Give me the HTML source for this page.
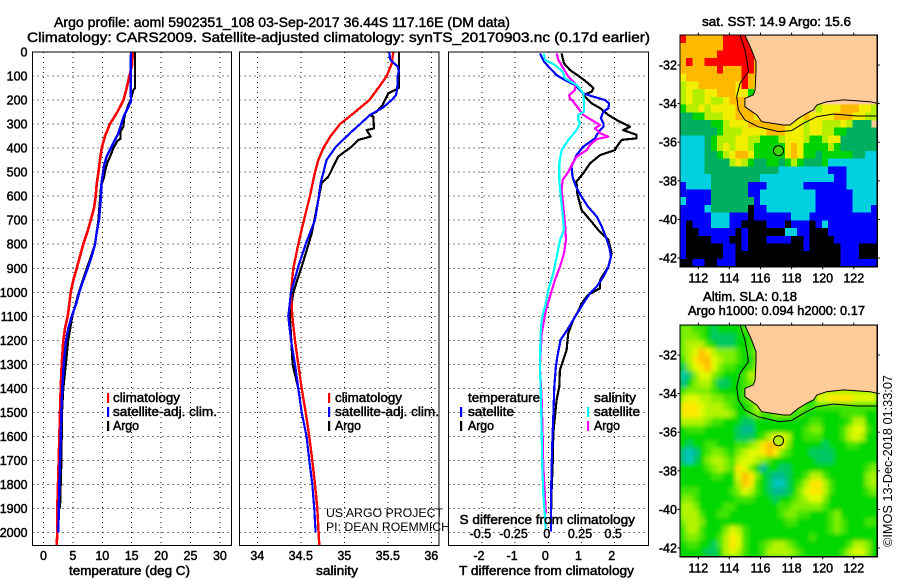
<!DOCTYPE html>
<html><head><meta charset="utf-8"><title>Argo profile</title>
<style>
html,body{margin:0;padding:0;background:#fff;width:900px;height:580px;overflow:hidden}
svg{display:block}
text{font-family:"Liberation Sans",sans-serif;fill:#000}
.b{stroke:#000;stroke-width:.5px;font-size:13px}
.t{stroke:#000;stroke-width:.45px;font-size:14px}
.n{font-size:12px;stroke:none}
</style></head><body>
<svg id="chart" width="900" height="580" viewBox="0 0 900 580" xmlns="http://www.w3.org/2000/svg">
<defs><filter id="soften" x="-5%" y="-5%" width="110%" height="110%"><feGaussianBlur stdDeviation="2"/></filter></defs>
<rect width="900" height="580" fill="#fff"/>
<g id="plots"></g>
<text class="t" x="54" y="27" textLength="456" lengthAdjust="spacingAndGlyphs">Argo profile: aoml 5902351_108 03-Sep-2017 36.44S 117.16E (DM data)</text>
<text class="t" x="27" y="42" textLength="623" lengthAdjust="spacingAndGlyphs">Climatology: CARS2009. Satellite-adjusted climatology: synTS_20170903.nc (0.17d earlier)</text>
<text class="b" x="69" y="575" textLength="121" lengthAdjust="spacingAndGlyphs">temperature (deg C)</text>
<text class="b" x="316" y="575" textLength="42" lengthAdjust="spacingAndGlyphs">salinity</text>
<text class="b" x="459" y="575" textLength="175" lengthAdjust="spacingAndGlyphs">T difference from climatology</text>
<text class="b" x="113" y="402" textLength="67" lengthAdjust="spacingAndGlyphs">climatology</text>
<text class="b" x="113" y="416" textLength="104" lengthAdjust="spacingAndGlyphs">satellite-adj. clim.</text>
<text class="b" x="113" y="430" textLength="26" lengthAdjust="spacingAndGlyphs">Argo</text>
<text class="b" x="335" y="402" textLength="67" lengthAdjust="spacingAndGlyphs">climatology</text>
<text class="b" x="335" y="416" textLength="104" lengthAdjust="spacingAndGlyphs">satellite-adj. clim.</text>
<text class="b" x="335" y="430" textLength="26" lengthAdjust="spacingAndGlyphs">Argo</text>
<text class="n" x="326" y="517" textLength="117" lengthAdjust="spacingAndGlyphs">US ARGO PROJECT</text>
<text class="n" x="326" y="531" textLength="124" lengthAdjust="spacingAndGlyphs">PI: DEAN ROEMMICH</text>
<text class="b" x="468" y="402" textLength="72" lengthAdjust="spacingAndGlyphs">temperature</text>
<text class="b" x="468" y="416" textLength="46" lengthAdjust="spacingAndGlyphs">satellite</text>
<text class="b" x="468" y="430" textLength="26" lengthAdjust="spacingAndGlyphs">Argo</text>
<text class="b" x="594" y="402" textLength="42" lengthAdjust="spacingAndGlyphs">salinity</text>
<text class="b" x="594" y="416" textLength="46" lengthAdjust="spacingAndGlyphs">satellite</text>
<text class="b" x="594" y="430" textLength="26" lengthAdjust="spacingAndGlyphs">Argo</text>
<text class="b" x="459.5" y="524" textLength="175.5" lengthAdjust="spacingAndGlyphs">S difference from climatology</text>
<text class="b" x="702" y="26" textLength="149" lengthAdjust="spacingAndGlyphs">sat. SST: 14.9 Argo: 15.6</text>
<text class="b" x="703" y="301" textLength="94" lengthAdjust="spacingAndGlyphs">Altim. SLA: 0.18</text>
<text class="b" x="688" y="315" textLength="177" lengthAdjust="spacingAndGlyphs">Argo h1000: 0.094 h2000: 0.17</text>
<text x="892" y="547" transform="rotate(-90 892 547)" font-size="13" textLength="172" lengthAdjust="spacingAndGlyphs">©IMOS 13-Dec-2018 01:33:07</text>
</svg>
<script>
const depthTicks=[0,100,200,300,400,500,600,700,800,900,1000,1100,1200,1300,1400,1500,1600,1700,1800,1900,2000];
const tempTicks=[0,5,10,15,20,25,30];
const salTicks=[34,34.5,35,35.5,36];
const salTickLabels=['34','34.5','35','35.5','36'];
const dTTicks=[-2,-1,0,1,2];
const dSTicks=[-0.5,-0.25,0,0.25,0.5];
const dSTickLabels=['-0.5','-0.25','0','0.25','0.5'];
const lonTicks=[112,114,116,118,120,122];
const latTicks=[-32,-34,-36,-38,-40,-42];

const tempClimDepth=[0,50,100,150,200,250,300,350,400,450,500,550,600,650,700,750,800,850,900,950,1000,1050,1100,1150,1200,1300,1400,1500,1700,1800,1900,2000,2055];
const tempClim=[15.16,15.1,14.6,14.15,13.6,12.55,11.3,10.46,9.89,9.6,9.33,9.04,8.87,8.59,8.02,7.45,6.77,6.2,5.64,5.07,4.62,4.39,4.11,3.66,3.37,3.09,2.92,2.8,2.58,2.47,2.35,2.35,2.24];
const tempSatDepth=[0,100,150,200,210,270,340,380,435,470,550,600,700,750,800,850,900,950,1000,1050,1100,1150,1200,1300,1400,1500,1600,1800,2000];
const tempSat=[14.88,14.82,14.85,14.88,14.8,13.6,12.7,11.85,10.75,10.3,9.84,9.78,9.44,9.04,8.76,8.19,7.51,6.77,6.09,5.53,4.79,4.22,3.83,3.43,3.2,3.03,2.92,2.69,2.52];
const tempArgoDepth=[0,150,160,200,220,260,280,310,330,360,370,400,430,460,490,520,560,700,800,1000,1100,1200,1300,1400,1500,1700,1900];
const tempArgo=[15.56,15.56,15.28,14.82,14.43,13.86,13.69,13.58,13.12,13.12,12.56,11.88,11.42,10.86,10.52,10.29,9.78,9.33,8.76,6.0,4.9,4.2,3.8,3.37,3.15,3.04,2.8];

const salClimDepth=[0,50,100,150,200,250,300,350,400,450,500,600,700,800,900,1000,1100,1200,1300,1400,1500,1600,1700,1800,1900,2000,2055];
const salClim=[35.563,35.544,35.487,35.391,35.287,35.123,34.95,34.843,34.759,34.701,34.663,34.605,34.536,34.471,34.414,34.387,34.402,34.433,34.471,34.51,34.556,34.598,34.632,34.663,34.69,34.705,34.713];
const salSatDepth=[0,30,50,60,80,100,150,180,200,230,262,338,394,449,546,616,699,796,893,1000,1100,1200,1300,1400,1500,1600,1700,1800,1900,2000];
const salSat=[35.517,35.525,35.582,35.613,35.628,35.613,35.609,35.594,35.544,35.448,35.295,35.065,34.904,34.797,34.728,34.701,34.663,34.559,34.471,34.387,34.356,34.387,34.433,34.471,34.51,34.567,34.598,34.632,34.655,34.67];
const salArgoDepth=[0,150,158,172,200,220,248,262,269,318,325,352,366,394,435,477,519,546,616,755,893,1000,1100,1300,1400,1500];
const salArgo=[35.628,35.628,35.582,35.506,35.467,35.441,35.372,35.295,35.333,35.341,35.257,35.303,35.161,35.084,34.931,34.874,34.816,34.739,34.701,34.625,34.51,34.414,34.375,34.406,34.471,34.51];

const dTArgoDepth=[6,47,75,103,130,151,165,179,214,234,262,283,311,325,345,359,366,394,408,429,463,505,539,588,657,699,741,782,838,893,949,983,1011,1046,1074,1115,1171,1240,1282,1323,1393,1448,1518,1587,1726,1823,1934];
const dTArgo=[.40,.47,.65,.95,1.2,1.36,1.31,1.05,1.31,1.56,1.81,2.06,2.46,2.26,2.66,2.66,2.21,2.06,2.01,1.56,1.26,1.05,.85,.87,1.0,1.26,1.51,1.81,1.91,1.81,1.56,1.56,1.2,1.0,.92,.75,.6,.55,.45,.35,.33,.25,.2,.15,.13,.1,.08];
const dTSatDepth=[6,40,68,96,117,137,172,186,200,214,234,248,276,297,311,325,345,359,394,429,477,519,560,602,644,685,727,768,810,852,893,935,976,1004,1046,1074,1115,1157,1198,1268,1309,1393,1518,1587,1726,1865,1996];
const dTSat=[-.25,-.13,.05,.25,.5,.8,1.05,1.36,1.71,1.83,1.81,1.66,1.58,1.66,1.66,1.56,1.46,1.41,1.05,.85,.7,.73,.83,1.0,1.2,1.46,1.61,1.73,1.83,1.89,1.81,1.66,1.46,1.26,1.05,.93,.75,.57,.37,.27,.23,.18,.15,.13,.1,.08,.08];
const dSSatDepth=[6,33,54,82,110,137,172,214,248,262,283,297,325,366,408,463,533,602,671,741,782,852,921,990,1060,1074,1115,1171,1309,1448,1587,1726,1837,1934,1989];
const dSSat=[-.033,-.025,.05,.108,.126,.213,.264,.269,.269,.226,.226,.238,.213,.151,.1,.083,.083,.093,.108,.118,.088,.063,.038,0,-.025,-.033,-.05,-.058,-.063,-.055,-.05,-.045,-.038,-.025,-.02];
const dSArgoDepth=[6,33,68,103,130,158,179,193,207,234,262,283,304,318,338,352,363,387,408,436,470,498,533,574,644,713,782,838,893,949,1018,1074,1171,1309,1448,1587,1726,1920];
const dSArgo=[.063,.075,.113,.151,.201,.201,.158,.163,.188,.226,.264,.326,.389,.351,.389,.452,.364,.314,.289,.213,.176,.151,.108,.1,.113,.126,.133,.118,.088,.05,.013,-.018,-.05,-.063,-.05,-.043,-.038,-.018];

const sstRows=[
"roooooorrrrr",
"ooooooorrrrr",
"oooooorrrrrr",
"oroorrrrrrrro",
"oooooorooorro",
"yoooooooooroo",
"lyyooooooyroy",
"lyllyyoooyygy",
"lyllyllyoooo",
"gllylyyyyooo          lyyyoooyyl",
"ttgglllyyoooy      yoyyyyoooyyll",
"tttttgglyyyooooooyyylyylllylttt",
"ttttttglllyyyyoooyyylyyllggttttt",
"cccctglllyyllggglyyylgglyytttttt",
"cccctglylyylgggggyoyggggl"+"gtttttt",
"ccccttglyooygggggyoyggtgggggttcc",
"cccctttt"+"lylgttggtglgtttg"+"cccccccc",
"cccc"+"tttttttttttt"+"cccccccc"+"bbb"+"ccccc",
"ccccc"+"tttttttt"+"cccccccccccc"+"bb"+"ccccc",
"b"+"cccc"+"tttttt"+"bbb"+"cccccc"+"bbbbbbb"+"ccccc",
"bbbbb"+"tttttt"+"bb"+"ccccccccc"+"bbbbbb"+"cccc",
"c"+"bbbb"+"ttttttt"+"b"+"ccccccccc"+"bbbbbb"+"cccc",
"bbbb"+"c"+"tttttt"+"k"+"bb"+"cccccccc"+"bbbbbb"+"ccc"+"b",
"bbbbb"+"ccc"+"bbb"+"k"+"bbbbbb"+"ccc"+"bbbbbbbbbbb",
"b"+"k"+"bbb"+"ccc"+"bb"+"kkkk"+"bbb"+"k"+"bbb"+"k"+"b"+"c"+"bbbbbbbb",
"b"+"kk"+"bbbbbb"+"k"+"b"+"kkkkkk"+"cc"+"bb"+"kkk"+"bbbbbbbb",
"b"+"kkkk"+"bbb"+"kk"+"b"+"kkk"+"bbbb"+"kk"+"b"+"kkkk"+"bbbbbbb",
"b"+"kkkkkk"+"bb"+"k"+"b"+"kkkkkkkkk"+"b"+"kkkkk"+"bbb"+"kkk",
"b"+"kkkkkk"+"bb"+"kk"+"kkkkkkkkkkkkkkk"+"bbb"+"kkk",
"kk"+"bb"+"kk"+"bbb"+"kkkkkkkkkkkkkkkkk"+"bbbbbb"
];
const slaRows=[
"554432333344",
"5554322223344",
"56664322233445",
"56798655543455",
"46899765543354",
"25789754433454",
"02577543334664",
"1356642233456",
"45555433334           6666666666",
"677665544345          7788887777",
"88876665433467     5444444444444",
"88876666533454455544333333444433",
"66665443332233333333344333346633",
"34443333321133333333455333467743",
"33333333322234677633444333467633",
"32334433344568998533333233344333",
"10134554356778985433322223333333",
"10235665467765433333332223333333",
"33334565487531332233333333333345",
"33333443379853211233466433333356",
"33333333369843200234688643333356",
"44433333457643211235788643333345",
"55433333344433323345677533333333",
"66533334433333334455555433333333",
"66643344333333334554433345333333",
"56653333333333333443333345433344",
"46643335764333333333333345433333",
"45543346874333333333343333333333",
"34433246874334566543333333346653",
"33332236764334666654333333467753"
];
const sstColors={r:'#ff0000',o:'#ffb900',y:'#f2ee00',l:'#b4ee00',g:'#00d400',t:'#00b060',c:'#00d0e0',b:'#0000ff',k:'#000000'};
const slaColors=['#00c8c0','#00b890','#00c860','#00d800','#40e400','#80ee00','#b4f400','#e0fa00','#ffe800','#ffc000'];

const coastLon=[115,115.43,115.71,115.71,115.65,115.54,115,115,115.76,116.08,117.47,117.9,118.44,118.97,119.4,119.62,120.26,121.33,123.05,123.51,123.51];
const coastLat=[-30.45,-31.22,-31.83,-32.35,-33.3,-33.55,-33.73,-34.16,-34.59,-34.94,-35.11,-35.11,-34.76,-34.5,-34.33,-34.07,-33.9,-33.81,-33.9,-33.99,-30.45];
const shelfLon=[114.68,115,115.15,115.22,114.68,114.47,114.58,115,115.86,117.15,118,118.76,119.62,120.69,122.19,123.51];
const shelfLat=[-30.45,-31.22,-31.91,-32.35,-32.95,-33.64,-34.33,-34.85,-35.2,-35.45,-35.4,-35.02,-34.68,-34.54,-34.64,-34.64];
const argoLon=117.16;
const argoLat=-36.44;

const NS='http://www.w3.org/2000/svg';
const root=document.getElementById('plots');
const depthY=d=>52+0.2403*d;
const tempX=t=>43.5+5.88*t;
const salX=s=>257.3+87*(s-34);
const dTX=v=>548.3+33.2*v;
const dSX=v=>548.3+132.8*v;
const lonX=l=>698.3+15.55*(l-112);
const latY=(l,o)=>65+o-19.3*(l+32);
const PT=52,PB=545.5;
const panels=[{name:'temperature',l:32.5,r:231.5},{name:'salinity',l:239.5,r:439},{name:'difference',l:448.5,r:648.5}];

function mk(tag,attrs,parent){
  const el=document.createElementNS(NS,tag);
  for(const k in attrs)el.setAttribute(k,attrs[k]);
  (parent||root).appendChild(el);
  return el;
}
function lineMark(xs,depths,fx,color,width,name,parent){
  const pts=xs.map((v,i)=>fx(v).toFixed(1)+','+depthY(depths[i]).toFixed(1)).join(' ');
  const el=mk('polyline',{points:pts,fill:'none',stroke:color,'stroke-width':width,'stroke-linejoin':'round','shape-rendering':'crispEdges'},parent);
  
  
}
function label(x,y,str,anchor,name){
  const el=mk('text',{x:x,y:y,'text-anchor':anchor,'font-size':12.5,stroke:'#000','stroke-width':.45});
  el.textContent=str;
  
  
}
function legendTick(x,y,color,name){
  const el=mk('rect',{x:x-1,y:y,width:2.2,height:10,fill:color});
  
  
}
function grid(p,ticks,fx){
  depthTicks.forEach(d=>{
    const el=mk('line',{x1:p.l,x2:p.r,y1:depthY(d),y2:depthY(d),stroke:'#000','stroke-width':1,'stroke-dasharray':'1 4','shape-rendering':'crispEdges'});
    
    
  });
  ticks.forEach(t=>{
    const el=mk('line',{x1:fx(t),x2:fx(t),y1:PT,y2:PB,stroke:'#000','stroke-width':1,'stroke-dasharray':'1 4','shape-rendering':'crispEdges'});
    
    
  });
}
function frame(l,t,r,b,name){
  const el=mk('rect',{x:l,y:t,width:r-l,height:b-t,fill:'none',stroke:'#000','stroke-width':1.2,'shape-rendering':'crispEdges'});
  
  
}
function clip(id,l,t,r,b){
  const c=mk('clipPath',{id:id});
  mk('rect',{x:l,y:t,width:r-l,height:b-t},c);
}

panels.forEach((p,i)=>{
  clip('clip-p'+i,p.l,PT,p.r,PB);
});
grid(panels[0],tempTicks,tempX);
grid(panels[1],salTicks,salX);
grid(panels[2],dTTicks,dTX);

const g0=mk('g',{'clip-path':'url(#clip-p0)'});


lineMark(tempArgo,tempArgoDepth,tempX,'#000',2.2,'temperature-argo-line',g0);
lineMark(tempClim,tempClimDepth,tempX,'#ff0000',2.6,'temperature-climatology-line',g0);
lineMark(tempSat,tempSatDepth,tempX,'#0000ff',2.4,'temperature-satellite-line',g0);

const g1=mk('g',{'clip-path':'url(#clip-p1)'});


lineMark(salArgo,salArgoDepth,salX,'#000',2.2,'salinity-argo-line',g1);
lineMark(salClim,salClimDepth,salX,'#ff0000',2.4,'salinity-climatology-line',g1);
lineMark(salSat,salSatDepth,salX,'#0000ff',2.2,'salinity-satellite-line',g1);

const g2=mk('g',{'clip-path':'url(#clip-p2)'});


lineMark(dTArgo,dTArgoDepth,dTX,'#000',2.2,'t-diff-argo-line',g2);
lineMark(dTSat,dTSatDepth,dTX,'#0000ff',2.2,'t-diff-satellite-line',g2);
lineMark(dSArgo,dSArgoDepth,dSX,'#ff00ff',2.2,'s-diff-argo-line',g2);
lineMark(dSSat,dSSatDepth,dSX,'#00ffff',2.2,'s-diff-satellite-line',g2);

panels.forEach(p=>{frame(p.l,PT,p.r,PB,p.name+'-panel-frame');});

depthTicks.forEach(d=>{label(27.5,depthY(d)+4.5,String(d),'end','depth-tick-label');});
tempTicks.forEach(t=>{label(tempX(t),560,String(t),'middle','temperature-tick-label');});
salTicks.forEach((t,i)=>{label(salX(t),560,salTickLabels[i],'middle','salinity-tick-label');});
dTTicks.forEach(t=>{label(dTX(t)-3,560,String(t),'middle','t-difference-tick-label');});
dSTicks.forEach((t,i)=>{label(dSX(t)-1.5,538,dSTickLabels[i],'middle','s-difference-tick-label');});

legendTick(108,393,'#ff0000','temp-legend-swatch-climatology');
legendTick(108,407,'#0000ff','temp-legend-swatch-satellite');
legendTick(108,421,'#000','temp-legend-swatch-argo');
legendTick(329,393,'#ff0000','sal-legend-swatch-climatology');
legendTick(329,407,'#0000ff','sal-legend-swatch-satellite');
legendTick(329,421,'#000','sal-legend-swatch-argo');
legendTick(461,407,'#0000ff','diff-legend-swatch-t-satellite');
legendTick(461,421,'#000','diff-legend-swatch-t-argo');
legendTick(588,407,'#00ffff','diff-legend-swatch-s-satellite');
legendTick(588,421,'#ff00ff','diff-legend-swatch-s-argo');

const ML=110.82,MR=123.51,MT=-30.45,MB=-42.45;
function map(rows,colorOf,off,name,markerFill,bgFill,smooth){
  const left=lonX(ML),right=lonX(MR),top=latY(MT,off),bot=latY(MB,off);
  clip('clip-'+name,left,top,right,bot);
  const clipper=mk('g',{'clip-path':'url(#clip-'+name+')'});
  
  
  const bg=mk('rect',{x:left,y:top,width:right-left,height:bot-top,fill:bgFill},clipper);
  
  
  const cells=mk('g',smooth?{filter:'url(#soften)'}:{},clipper);
  
  
  const dLon=(MR-ML)/32,dLat=(MT-MB)/30;
  rows.forEach((row,r)=>{
    for(let c=0;c<row.length;c++){
      const ch=row[c];
      if(ch===' ')continue;
      const x0=lonX(ML+c*dLon),y0=latY(MT-r*dLat,off);
      const cell=mk('rect',{x:x0,y:y0,width:lonX(ML+(c+1)*dLon)-x0+.4,height:latY(MT-(r+1)*dLat,off)-y0+.4,fill:colorOf(ch),'shape-rendering':'crispEdges'},cells);
      
      
    }
  });
  const land=mk('polygon',{points:coastLon.map((l,i)=>lonX(l).toFixed(1)+','+latY(coastLat[i],off).toFixed(1)).join(' '),fill:'#ffcc99',stroke:'#000','stroke-width':1});
  
  
  const shelf=mk('polyline',{points:shelfLon.map((l,i)=>lonX(l).toFixed(1)+','+latY(shelfLat[i],off).toFixed(1)).join(' '),fill:'none',stroke:'#000','stroke-width':1});
  
  
  const mark=mk('circle',{cx:lonX(argoLon),cy:latY(argoLat,off),r:5,fill:markerFill,stroke:'#000','stroke-width':1});
  
  
  frame(left,top,right,bot,name+'-frame');
  lonTicks.forEach(l=>{
    const a=mk('line',{x1:lonX(l),x2:lonX(l),y1:top-2.5,y2:top,stroke:'#000'});
    
    
    const b=mk('line',{x1:lonX(l),x2:lonX(l),y1:bot,y2:bot+2.5,stroke:'#000'});
    
    
    label(lonX(l),bot+16,String(l),'middle',name+'-lon-label');
  });
  latTicks.forEach(l=>{
    const y=latY(l,off);
    const a=mk('line',{x1:left-2.5,x2:left,y1:y,y2:y,stroke:'#000'});
    
    
    const b=mk('line',{x1:right,x2:right+2.5,y1:y,y2:y,stroke:'#000'});
    
    
    label(left-3,y+4.5,String(l),'end',name+'-lat-label');
  });
}
map(sstRows,ch=>sstColors[ch],0,'sst-map','#40d800','#ffcc99',false);
map(slaRows,ch=>slaColors[+ch],290,'sla-map','#b4f000','#00d800',true);
</script>
</body></html>
